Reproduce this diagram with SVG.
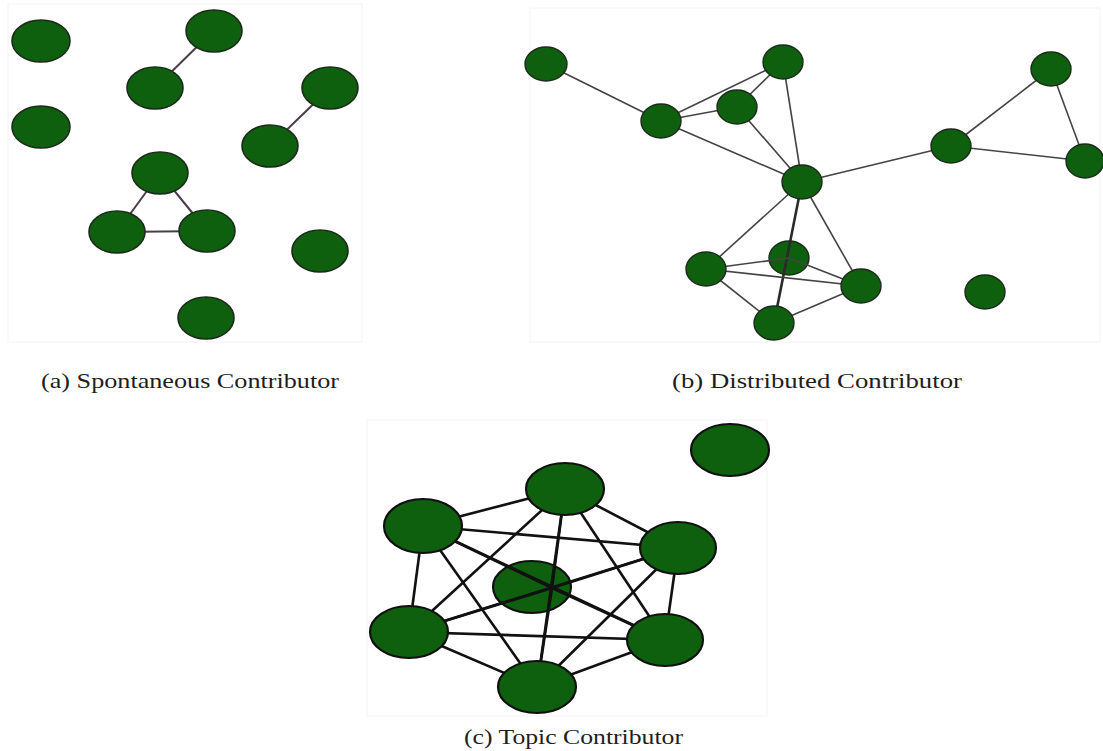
<svg xmlns="http://www.w3.org/2000/svg" width="1103" height="751" viewBox="0 0 1103 751">
<style>
.bg{fill:#ffffff}
.frame{fill:none;stroke:#f5f5f5;stroke-width:1.2}
.na{fill:#0e5f0e;stroke:#1c2a1c;stroke-width:1.6}
.nb{fill:#0e5f0e;stroke:#1c2a1c;stroke-width:1.4}
.nc{fill:#0e5f0e;stroke:#111111;stroke-width:2.2}
.ea{stroke:#4a3d4a;stroke-width:2;fill:none}
.eb{stroke:#444444;stroke-width:1.6;fill:none}
.ebt{stroke:#2a2a2a;stroke-width:2.6;fill:none}
.ec{stroke:#111111;stroke-width:2.6;fill:none}
.lbl{font-family:"Liberation Serif","Times New Roman",serif;font-size:21px;fill:#1e1e1e}
</style>
<rect class="bg" x="0" y="0" width="1103" height="751"/>
<rect class="frame" x="8" y="4" width="354" height="338"/>
<rect class="frame" x="530" y="8" width="570" height="334"/>
<rect class="frame" x="367" y="420" width="400" height="296"/>

<!-- Panel (a) connectors -->
<g id="connectors-a">
<line class="ea" x1="213" y1="31" x2="155" y2="88"/>
<line class="ea" x1="330" y1="88" x2="270" y2="146"/>
<line class="ea" x1="160" y1="173" x2="117" y2="232"/>
<line class="ea" x1="160" y1="173" x2="207" y2="231"/>
<line class="ea" x1="117" y1="232" x2="207" y2="231"/>
</g>
<g id="a1"><ellipse class="na" cx="41" cy="41" rx="29" ry="21"/></g>
<g id="a2"><ellipse class="na" cx="214" cy="31" rx="28" ry="21"/></g>
<g id="a3"><ellipse class="na" cx="155" cy="88" rx="28" ry="21"/></g>
<g id="a4"><ellipse class="na" cx="41" cy="127" rx="29" ry="21"/></g>
<g id="a5"><ellipse class="na" cx="330" cy="88" rx="28" ry="21"/></g>
<g id="a6"><ellipse class="na" cx="270" cy="146" rx="28" ry="21"/></g>
<g id="a7"><ellipse class="na" cx="160" cy="173" rx="28" ry="21"/></g>
<g id="a8"><ellipse class="na" cx="117" cy="232" rx="28" ry="21"/></g>
<g id="a9"><ellipse class="na" cx="207" cy="231" rx="28" ry="21"/></g>
<g id="a10"><ellipse class="na" cx="320" cy="251" rx="28" ry="21"/></g>
<g id="a11"><ellipse class="na" cx="206" cy="318" rx="28" ry="21"/></g>

<!-- Panel (b) -->
<g id="b10"><ellipse class="nb" cx="789" cy="258" rx="20" ry="17"/></g>
<g id="connectors-b">
<line class="eb" x1="546" y1="64" x2="661" y2="121"/>
<line class="eb" x1="661" y1="121" x2="783" y2="62"/>
<line class="eb" x1="661" y1="121" x2="737" y2="107"/>
<line class="eb" x1="737" y1="107" x2="783" y2="62"/>
<line class="eb" x1="661" y1="121" x2="802" y2="182"/>
<line class="eb" x1="737" y1="107" x2="802" y2="182"/>
<line class="eb" x1="783" y1="62" x2="802" y2="182"/>
<line class="eb" x1="802" y1="182" x2="951" y2="146"/>
<line class="eb" x1="951" y1="146" x2="1051" y2="69"/>
<line class="eb" x1="951" y1="146" x2="1085" y2="161"/>
<line class="eb" x1="1051" y1="69" x2="1085" y2="161"/>
<line class="eb" x1="802" y1="182" x2="706" y2="269"/>
<line class="ebt" x1="802" y1="182" x2="774" y2="323"/>
<line class="eb" x1="802" y1="182" x2="861" y2="286"/>
<line class="eb" x1="706" y1="269" x2="789" y2="258"/>
<line class="eb" x1="706" y1="269" x2="861" y2="286"/>
<line class="eb" x1="789" y1="258" x2="861" y2="286"/>
<line class="eb" x1="706" y1="269" x2="774" y2="323"/>
<line class="eb" x1="861" y1="286" x2="774" y2="323"/>
</g>
<g id="b1"><ellipse class="nb" cx="546" cy="64" rx="21" ry="17"/></g>
<g id="b2"><ellipse class="nb" cx="783" cy="62" rx="20" ry="17"/></g>
<g id="b3"><ellipse class="nb" cx="737" cy="107" rx="20" ry="17"/></g>
<g id="b4"><ellipse class="nb" cx="661" cy="121" rx="20" ry="17"/></g>
<g id="b5"><ellipse class="nb" cx="802" cy="182" rx="20" ry="17"/></g>
<g id="b6"><ellipse class="nb" cx="951" cy="146" rx="20" ry="17"/></g>
<g id="b7"><ellipse class="nb" cx="1051" cy="69" rx="20" ry="17"/></g>
<g id="b8"><ellipse class="nb" cx="1085" cy="161" rx="19" ry="17"/></g>
<g id="b9"><ellipse class="nb" cx="706" cy="269" rx="20" ry="17"/></g>
<g id="b11"><ellipse class="nb" cx="861" cy="286" rx="20" ry="17"/></g>
<g id="b12"><ellipse class="nb" cx="774" cy="323" rx="20" ry="17"/></g>
<g id="b13"><ellipse class="nb" cx="985" cy="292" rx="20" ry="17"/></g>

<!-- Panel (c) -->
<g id="c-center"><ellipse class="nc" cx="532" cy="587" rx="39" ry="26"/></g>
<g id="connectors-c">
<line class="ec" x1="565" y1="489" x2="423" y2="526"/>
<line class="ec" x1="565" y1="489" x2="678" y2="548"/>
<line class="ec" x1="565" y1="489" x2="552" y2="588"/>
<line class="ec" x1="565" y1="489" x2="409" y2="632"/>
<line class="ec" x1="565" y1="489" x2="665" y2="640"/>
<line class="ec" x1="565" y1="489" x2="537" y2="687"/>
<line class="ec" x1="423" y1="526" x2="678" y2="548"/>
<line class="ec" x1="423" y1="526" x2="552" y2="588"/>
<line class="ec" x1="423" y1="526" x2="409" y2="632"/>
<line class="ec" x1="423" y1="526" x2="665" y2="640"/>
<line class="ec" x1="423" y1="526" x2="537" y2="687"/>
<line class="ec" x1="678" y1="548" x2="552" y2="588"/>
<line class="ec" x1="678" y1="548" x2="409" y2="632"/>
<line class="ec" x1="678" y1="548" x2="665" y2="640"/>
<line class="ec" x1="678" y1="548" x2="537" y2="687"/>
<line class="ec" x1="409" y1="632" x2="552" y2="588"/>
<line class="ec" x1="409" y1="632" x2="665" y2="640"/>
<line class="ec" x1="409" y1="632" x2="537" y2="687"/>
<line class="ec" x1="665" y1="640" x2="552" y2="588"/>
<line class="ec" x1="665" y1="640" x2="537" y2="687"/>
<line class="ec" x1="552" y1="588" x2="537" y2="687"/>
</g>
<g id="c-top"><ellipse class="nc" cx="565" cy="489" rx="39" ry="26"/></g>
<g id="c-left"><ellipse class="nc" cx="423" cy="526" rx="39" ry="27"/></g>
<g id="c-right"><ellipse class="nc" cx="678" cy="548" rx="38" ry="26"/></g>
<g id="c-lowleft"><ellipse class="nc" cx="409" cy="632" rx="39" ry="26"/></g>
<g id="c-lowright"><ellipse class="nc" cx="665" cy="640" rx="38" ry="26"/></g>
<g id="c-bottom"><ellipse class="nc" cx="537" cy="687" rx="39" ry="26"/></g>
<g id="c-isolated"><ellipse class="nc" cx="730" cy="450" rx="39" ry="26"/></g>

<!-- Labels -->
<text class="lbl" x="41" y="388" textLength="298" lengthAdjust="spacingAndGlyphs">(a) Spontaneous Contributor</text>
<text class="lbl" x="672" y="388" textLength="290" lengthAdjust="spacingAndGlyphs">(b) Distributed Contributor</text>
<text class="lbl" x="464" y="744" textLength="219" lengthAdjust="spacingAndGlyphs">(c) Topic Contributor</text>
</svg>
